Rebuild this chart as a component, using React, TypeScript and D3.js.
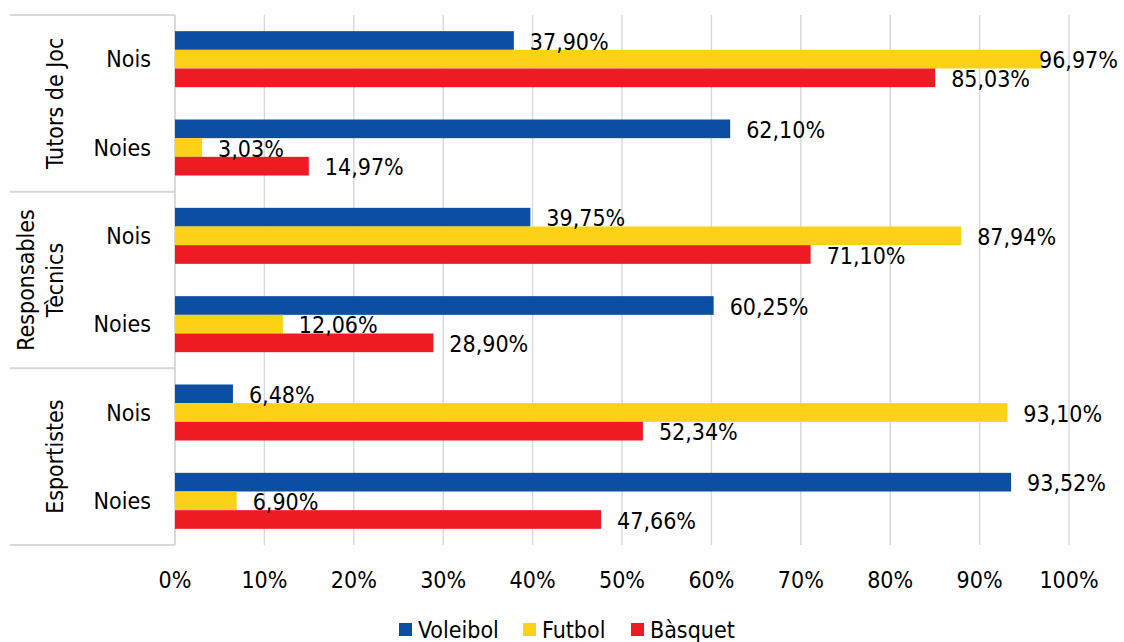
import React from 'react'
import * as d3 from 'd3'

const groups = ['Tutors de Joc', 'Responsables Tècnics', 'Esportistes']
const groupLines = [['Tutors de Joc'], ['Responsables', 'Tècnics'], ['Esportistes']]
const genders = ['Nois', 'Noies']
const series = ['Voleibol', 'Futbol', 'Bàsquet']
const colors = ['#0B4EA2', '#FCD116', '#ED1C24']

// rows top to bottom: Tutors Nois, Tutors Noies, Resp Nois, Resp Noies, Esport Nois, Esport Noies
const voleibol = [37.9, 62.1, 39.75, 60.25, 6.48, 93.52]
const futbol = [96.97, 3.03, 87.94, 12.06, 93.1, 6.9]
const basquet = [85.03, 14.97, 71.1, 28.9, 52.34, 47.66]
const values = [voleibol, futbol, basquet]

const ticks = [0, 10, 20, 30, 40, 50, 60, 70, 80, 90, 100]

const W = 1124
const H = 642
const margin = { top: 15, right: 55, bottom: 97, left: 175 }
const FONT = '"DejaVu Sans Condensed", "DejaVu Sans", Verdana, sans-serif'
const FS = 23

const fmt = (v: number) => v.toFixed(2).replace('.', ',') + '%'

export default function App() {
  const rows = d3.range(groups.length * genders.length)
  const x = d3.scaleLinear().domain([0, 100]).range([margin.left, W - margin.right])
  const y = d3.scaleBand<number>()
    .domain(rows)
    .range([margin.top, H - margin.bottom])
    .paddingInner(0.366)
    .paddingOuter(0.183)
  const ys = d3.scaleBand<number>().domain(d3.range(series.length)).range([0, y.bandwidth()])
  const step = y.step()
  const top = margin.top
  const bottom = H - margin.bottom
  const leftEdge = 10

  const legendX = [399, 523, 631]

  return (
    <svg width={W} height={H} style={{ position: 'absolute', left: 0, top: 0, fontFamily: FONT }}>
      <rect width={W} height={H} fill="#fff" />
      {/* grid */}
      {ticks.slice(1).map(t => (
        <line key={t} x1={x(t)} x2={x(t)} y1={top} y2={bottom} stroke="#d9d9d9" strokeWidth={1.5} />
      ))}
      {/* category frame */}
      <line x1={x(0)} x2={x(0)} y1={top} y2={bottom} stroke="#d9d9d9" strokeWidth={2} />
      {d3.range(groups.length + 1).map(i => {
        const yy = top + i * step * genders.length
        return <line key={i} x1={leftEdge} x2={x(0)} y1={yy} y2={yy} stroke="#d9d9d9" strokeWidth={2} />
      })}
      {/* bars */}
      {values.map((vals, si) =>
        vals.map((v, ri) => (
          <rect key={si + '-' + ri} x={x(0)} y={(y(ri) || 0) + (ys(si) || 0)} width={x(v) - x(0)}
            height={ys.bandwidth()} fill={colors[si]} />
        ))
      )}
      {/* value labels */}
      {values.map((vals, si) =>
        vals.map((v, ri) => {
          const lx = Math.min(x(v) + 16, W - 85)
          return (
            <text key={'l' + si + '-' + ri} x={lx} y={(y(ri) || 0) + (ys(si) || 0) + ys.bandwidth() / 2 + 1}
              dy="0.36em" fontSize={FS} fill="#000">{fmt(v)}</text>
          )
        })
      )}
      {/* inner labels */}
      {rows.map(ri => (
        <text key={'g' + ri} x={151} y={(y(ri) || 0) + y.bandwidth() / 2} dy="0.36em" textAnchor="end"
          fontSize={FS} fill="#000">{genders[ri % genders.length]}</text>
      ))}
      {/* outer labels */}
      {groupLines.map((lines, gi) => {
        const cy = top + (gi + 0.5) * step * genders.length
        const cx = 55
        return (
          <text key={'o' + gi} transform={`translate(${cx},${cy}) rotate(-90)`} textAnchor="middle"
            fontSize={FS} fill="#000">
            {lines.map((l, li) => (
              <tspan key={li} x={0} dy={li === 0 ? 8 - (lines.length - 1) * 29 : 29}>{l}</tspan>
            ))}
          </text>
        )
      })}
      {/* x ticks */}
      {ticks.map(t => (
        <text key={'t' + t} x={x(t)} y={580} dy="0.36em" textAnchor="middle" fontSize={FS} fill="#000">{t}%</text>
      ))}
      {/* legend */}
      {series.map((s, i) => (
        <g key={s} transform={`translate(${legendX[i]},630)`}>
          <rect x={0} y={-7} width={13} height={13} fill={colors[i]} />
          <text x={19} y={0} dy="0.36em" fontSize={FS} fill="#000">{s}</text>
        </g>
      ))}
    </svg>
  )
}
